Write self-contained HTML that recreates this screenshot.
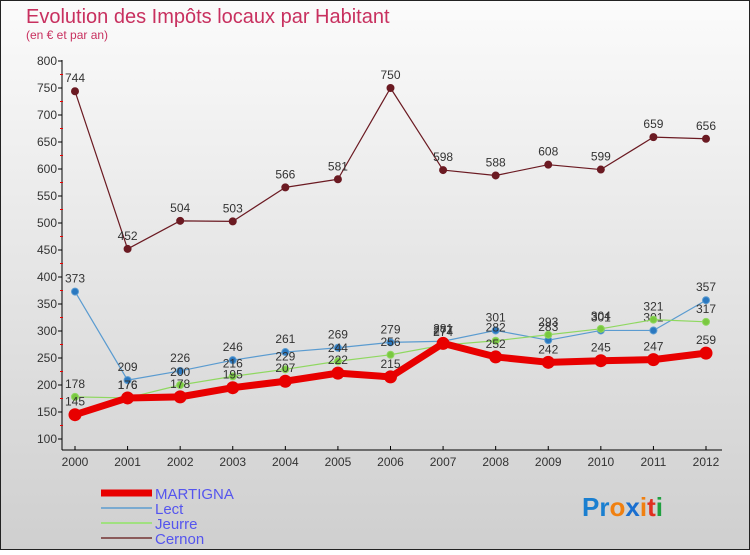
<!DOCTYPE html>
<html><head><meta charset="utf-8"><style>
html,body{margin:0;padding:0}
body{width:750px;height:550px;overflow:hidden;font-family:"Liberation Sans",sans-serif}
</style></head><body>
<svg id="c" width="750" height="550" xmlns="http://www.w3.org/2000/svg">
<defs><linearGradient id="bg" x1="0" y1="0" x2="0" y2="1"><stop offset="0" stop-color="#fbfbfb"/><stop offset="1" stop-color="#cfcfcf"/></linearGradient></defs>
<rect x="0.5" y="0.5" width="749" height="549" fill="url(#bg)" stroke="#222"/>
<text x="26" y="23" font-size="20" fill="#c8305f">Evolution des Impôts locaux par Habitant</text>
<text x="26" y="39" font-size="12" fill="#c8305f">(en € et par an)</text>
<g id="axes"></g><g id="series"></g><g id="legend"></g>
<text x="582" y="516" font-size="26" font-weight="bold"><tspan fill="#1a7fd0">Pr</tspan><tspan fill="#f08010">o</tspan><tspan fill="#1a6fd0">x</tspan><tspan fill="#f08010">i</tspan><tspan fill="#e03020">t</tspan><tspan fill="#20a040">i</tspan></text>
</svg>
<script>
const years=[2000,2001,2002,2003,2004,2005,2006,2007,2008,2009,2010,2011,2012];
const yTicks=[100,150,200,250,300,350,400,450,500,550,600,650,700,750,800];
const martigna=[145,176,178,195,207,222,215,277,252,242,245,247,259];
const lect=[373,209,226,246,261,269,279,281,301,283,301,301,357];
const jeurre=[178,176,200,216,229,244,256,274,282,293,304,321,317];
const cernon=[744,452,504,503,566,581,750,598,588,608,599,659,656];
const NS="http://www.w3.org/2000/svg";
function X(i){return 75+i*(706-75)/12;}
function Y(v){return 439-(v-100)*378/700;}
function mk(t,a,p){const e=document.createElementNS(NS,t);for(const k in a)e.setAttribute(k,a[k]);p.appendChild(e);return e;}
const ax=document.getElementById('axes');
let l=mk('line',{x1:62,y1:60,x2:62,y2:450,stroke:'#000'},ax);


l=mk('line',{x1:62,y1:450,x2:722,y2:450,stroke:'#000'},ax);


yTicks.forEach(v=>{const y=Y(v);
 mk('line',{x1:58,y1:y,x2:62,y2:y,stroke:'#000'},ax);
 if(v<800)mk('line',{x1:60,y1:Y(v+25),x2:63,y2:Y(v+25),stroke:'#e00'},ax);
 const t=mk('text',{x:57,y:y+4,'font-size':12,'text-anchor':'end',fill:'#333'},ax);t.textContent=v;
 
 });
years.forEach((yr,i)=>{const x=X(i);
 mk('line',{x1:x,y1:446,x2:x,y2:450,stroke:'#000'},ax);
 const t=mk('text',{x:x,y:466,'font-size':12,'text-anchor':'middle',fill:'#333'},ax);t.textContent=yr;
 
 });
const sg=document.getElementById('series');
function series(name,data,color,w,r,fill,labels){
 const g=mk('g',{},sg);
 
 
 mk('polyline',{points:data.map((v,i)=>X(i)+','+Y(v)).join(' '),fill:'none',stroke:color,'stroke-width':w,'stroke-linejoin':'round'},g);
 data.forEach((v,i)=>{const c=mk('circle',{cx:X(i),cy:Y(v),r:r,fill:fill,stroke:color,'stroke-width':1},g);
  
  
  if(labels){const t=mk('text',{x:X(i),y:Y(v)-9,'font-size':12,'text-anchor':'middle',fill:'#333'},g);t.textContent=v;
  
  }});
}
series('cernon',cernon,'#6b1a22',1.2,3.5,'#6b1a22',true);
series('lect',lect,'#5a9bd0',1.2,3.5,'#2a78c0',true);
series('jeurre',jeurre,'#8fd860',1.2,3.5,'#7ac840',true);
series('martigna',martigna,'#e80000',7,6,'#e80000',true);
const lg=document.getElementById('legend');
[['MARTIGNA','#e80000',7],['Lect','#7aaad0',2],['Jeurre','#a0e080',2],['Cernon','#8a5a5a',2]].forEach((d,i)=>{
 const y=493+i*15;
 const g=mk('g',{},lg);
 
 
 mk('line',{x1:101,y1:y,x2:152,y2:y,stroke:d[1],'stroke-width':d[2]},g);
 const t=mk('text',{x:155,y:y+6,'font-size':15,fill:'#5555ee'},g);t.textContent=d[0];
});
</script>
</body></html>
